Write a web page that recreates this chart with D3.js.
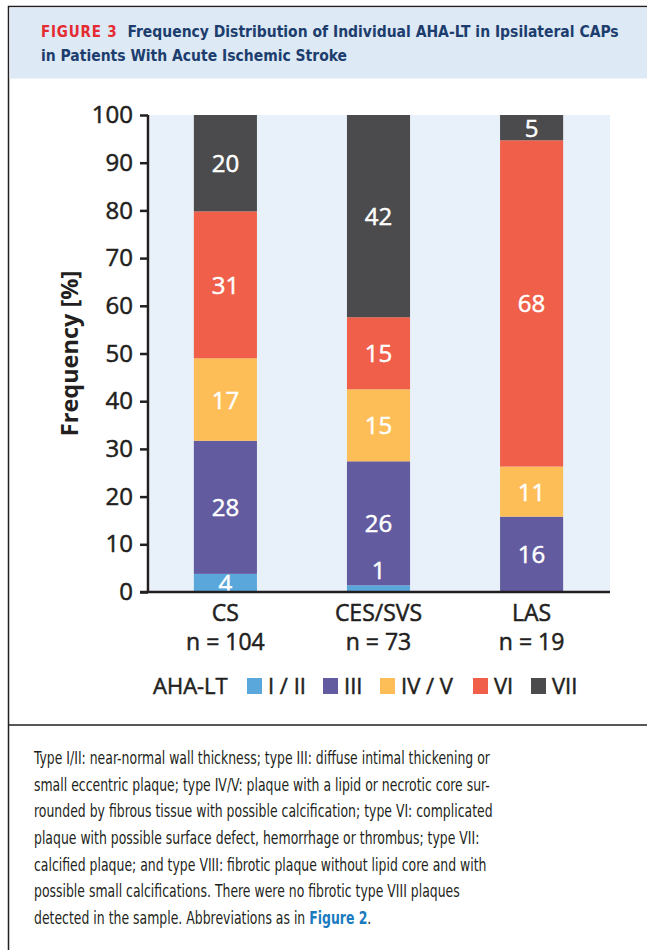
<!DOCTYPE html>
<html>
<head>
<meta charset="utf-8">
<script src="https://cdn.jsdelivr.net/npm/d3@7"></script>
<style>
  body { margin: 0; background: #fff; }
  svg { display: block; }
</style>
</head>
<body>
<div id="chart"></div>
<script>
// --- Data ---
const groups = ["CS", "CES/SVS", "LAS"];
const groupN = ["n = 104", "n = 73", "n = 19"];
const types = ["I / II", "III", "IV / V", "VI", "VII"];
const pctCS = [3.8, 27.9, 17.3, 30.8, 20.2];
const pctCES = [1.4, 26.0, 15.1, 15.1, 42.4];
const pctLAS = [0, 15.8, 10.5, 68.4, 5.3];
const yTicks = [0, 10, 20, 30, 40, 50, 60, 70, 80, 90, 100];
const colors = ["#5aa7db", "#635b9f", "#fdbe57", "#ef5f49", "#4b4b4d"];

const rows = [pctCS, pctCES, pctLAS].map((vals, i) => {
  const r = { group: groups[i] };
  types.forEach((t, j) => r[t] = vals[j]);
  return r;
});

const W = 647, H = 950;
const svg = d3.select("#chart").append("svg").attr("width", W).attr("height", H);

// --- Frame & header ---
svg.append("rect").attr("x", 8.5).attr("y", 6.5).attr("width", W + 10).attr("height", H + 10)
  .attr("fill", "none").attr("stroke", "#231f20").attr("stroke-width", 1.5);
svg.append("rect").attr("x", 9.5).attr("y", 7.5).attr("width", W).attr("height", 71).attr("fill", "#dde9f5");
svg.append("line").attr("x1", 8).attr("x2", W).attr("y1", 725).attr("y2", 725)
  .attr("stroke", "#231f20").attr("stroke-width", 1.5);

const titleFont = "'DejaVu Sans Condensed', 'DejaVu Sans'";
const title = svg.append("text").attr("x", 41).attr("y", 37)
  .style("font-family", titleFont).style("font-weight", "bold")
  .style("font-size", "15.5px").attr("fill", "#1c3d6d");
title.append("tspan").attr("fill", "#e52b32").style("font-size", "15px").style("letter-spacing", "0.8px").text("FIGURE 3");
title.append("tspan").attr("dx", 10).text("Frequency Distribution of Individual AHA-LT in Ipsilateral CAPs");
svg.append("text").attr("x", 41).attr("y", 61)
  .style("font-family", titleFont).style("font-weight", "bold")
  .style("font-size", "15.5px").attr("fill", "#1c3d6d")
  .text("in Patients With Acute Ischemic Stroke");

// --- Scales ---
const plot = { left: 150, right: 610, top: 115, bottom: 592 };
const x = d3.scaleBand().domain(groups).range([151, 606]).paddingInner(0.588).paddingOuter(0.28);
const y = d3.scaleLinear().domain([0, 100]).range([plot.bottom, plot.top]);
const color = d3.scaleOrdinal().domain(types).range(colors);

svg.append("rect").attr("x", plot.left).attr("y", plot.top)
  .attr("width", plot.right - plot.left).attr("height", plot.bottom - plot.top).attr("fill", "#e8f0f9");

// --- Bars ---
const stacked = d3.stack().keys(types)(rows);
const font = "'Open Sans', 'Noto Sans', sans-serif";
const ink = "#231f20";

// slightly heavier strokes, like the original's rendering
function heavy(sel, c) {
  sel.style("font-family", font).attr("fill", c).attr("stroke", c).attr("stroke-width", 0.5);
}

stacked.forEach(layer => {
  svg.append("g").selectAll("rect").data(layer).join("rect")
    .attr("x", d => x(d.data.group))
    .attr("width", x.bandwidth())
    .attr("y", d => y(d[1]))
    .attr("height", d => y(d[0]) - y(d[1]))
    .attr("fill", color(layer.key));
});

// value labels drawn after all bars
const labelG = svg.append("g");
stacked.forEach(layer => {
  labelG.append("g").selectAll("text").data(layer.filter(d => d[1] - d[0] > 0)).join("text")
    .attr("x", d => x(d.data.group) + x.bandwidth() / 2)
    .attr("y", d => {
      const h = d[1] - d[0];
      if (h < 2) return y(d[1]) - 6;
      return y((d[0] + d[1]) / 2) + 9;
    })
    .attr("text-anchor", "middle")
    .style("font-size", "24px")
    .call(heavy, "#fff")
    .text(d => Math.round(d[1] - d[0]));
});

// --- Axes ---
const yAxis = svg.append("g").attr("transform", `translate(${plot.left - 2},0)`)
  .call(d3.axisLeft(y).tickValues(yTicks).tickSize(8).tickPadding(7));
yAxis.select(".domain").attr("stroke", ink).attr("stroke-width", 2.5)
  .attr("d", `M0,${plot.top}V${plot.bottom}`);
yAxis.selectAll(".tick line").attr("stroke", ink).attr("stroke-width", 2.5);
yAxis.selectAll(".tick text").style("font-size", "24px").call(heavy, ink);

svg.append("line").attr("x1", plot.left - 10).attr("x2", plot.right).attr("y1", plot.bottom).attr("y2", plot.bottom)
  .attr("stroke", ink).attr("stroke-width", 2.5);

svg.append("text")
  .attr("transform", `translate(78,${(plot.top + plot.bottom) / 2}) rotate(-90)`)
  .attr("text-anchor", "middle")
  .style("font-family", font).style("font-size", "23.5px").style("font-weight", "bold")
  .attr("fill", ink).text("Frequency [%]");

// x labels
groups.forEach((g, i) => {
  const cx = x(g) + x.bandwidth() / 2;
  svg.append("text").attr("x", cx).attr("y", 621).attr("text-anchor", "middle")
    .style("font-size", "23px").call(heavy, ink).text(g);
  svg.append("text").attr("x", cx).attr("y", 650).attr("text-anchor", "middle")
    .style("font-size", "23px").call(heavy, ink).text(groupN[i]);
});

// --- Legend ---
const legendX = [247, 323, 380, 473, 531];
svg.append("text").attr("x", 153).attr("y", 694)
  .style("font-size", "22px").call(heavy, ink).text("AHA-LT");
types.forEach((t, i) => {
  svg.append("rect").attr("x", legendX[i]).attr("y", 678).attr("width", 15).attr("height", 16).attr("fill", colors[i]);
  svg.append("text").attr("x", legendX[i] + 21).attr("y", 694)
    .style("font-size", "22px").call(heavy, ink).text(t);
});

// --- Caption ---
const caption = [
  "Type I/II: near-normal wall thickness; type III: diffuse intimal thickening or",
  "small eccentric plaque; type IV/V: plaque with a lipid or necrotic core sur-",
  "rounded by fibrous tissue with possible calcification; type VI: complicated",
  "plaque with possible surface defect, hemorrhage or thrombus; type VII:",
  "calcified plaque; and type VIII: fibrotic plaque without lipid core and with",
  "possible small calcifications. There were no fibrotic type VIII plaques",
  "detected in the sample. Abbreviations as in "
];
const capG = svg.append("g")
  .style("font-family", "'DejaVu Sans Condensed', sans-serif")
  .style("font-size", "17px").attr("fill", ink);
const capLines = caption.map((line, i) => {
  const t = capG.append("text").attr("x", 0).attr("y", 764 + i * 26.7).text(line);
  if (i === caption.length - 1) {
    t.append("tspan").attr("fill", "#1a7bbf").style("font-weight", "bold").text("Figure 2");
    t.append("tspan").text(".");
  }
  return t;
});
// the original uses a narrow face; squeeze horizontally so the first line spans ~456px
const k = 456 / capLines[0].node().getComputedTextLength();
capG.attr("transform", `translate(34,0) scale(${k},1)`);
</script>
</body>
</html>
